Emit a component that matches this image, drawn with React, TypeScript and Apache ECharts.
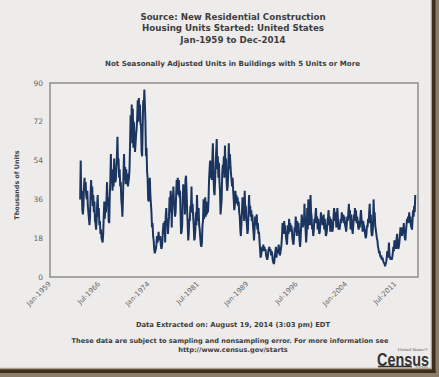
import React, { useEffect, useRef } from "react";
import * as echarts from "echarts";

// ---- axis / label data ----
const MONTHS = ["Jan", "Feb", "Mar", "Apr", "May", "Jun", "Jul", "Aug", "Sep", "Oct", "Nov", "Dec"];
const FIRST_YEAR = 1959;
const LAST_YEAR = 2014;
const TICK_LABELS = ["Jan-1959", "Jul-1966", "Jan-1974", "Jul-1981", "Jan-1989", "Jul-1996", "Jan-2004", "Jul-2011"];
const Y_MIN = 0;
const Y_MAX = 90;
const Y_STEP = 18;
const SERIES_START = "Aug-1963";

// ---- monthly values (thousands of units) ----
const v1963 = [36, 54, 38, 40, 31]; // Aug-Dec
const v1964 = [29, 33, 42, 46, 40, 44, 38, 36, 40, 33, 30, 27];
const v1965 = [24, 28, 38, 45, 36, 42, 33, 38, 30, 35, 26, 25];
const v1966 = [22, 26, 34, 38, 28, 32, 24, 26, 20, 22, 18, 17];
const v1967 = [16, 20, 28, 35, 27, 34, 30, 36, 44, 33, 37, 26];
const v1968 = [25, 38, 45, 57, 44, 48, 40, 50, 42, 55, 46, 44];
const v1969 = [45, 50, 56, 65, 52, 55, 46, 50, 42, 44, 36, 33];
const v1970 = [28, 36, 48, 57, 45, 51, 43, 50, 44, 48, 42, 44];
const v1971 = [46, 50, 62, 75, 66, 80, 62, 78, 60, 72, 63, 58];
const v1972 = [62, 66, 69, 74, 82, 72, 83, 75, 80, 71, 70, 58];
const v1973 = [56, 70, 82, 78, 87, 80, 72, 56, 60, 49, 46, 36];
const v1974 = [35, 40, 46, 38, 34, 30, 23, 25, 19, 17, 13, 11];
const v1975 = [11, 13, 15, 19, 16, 18, 21, 17, 18, 19, 15, 13];
const v1976 = [14, 17, 22, 25, 20, 26, 16, 28, 32, 24, 27, 20];
const v1977 = [24, 28, 37, 30, 40, 36, 23, 38, 36, 42, 35, 31];
const v1978 = [28, 30, 38, 45, 40, 46, 38, 45, 37, 40, 30, 20];
const v1979 = [21, 24, 36, 43, 35, 40, 29, 45, 47, 40, 31, 25];
const v1980 = [17, 20, 27, 26, 33, 30, 42, 30, 34, 28, 24, 17];
const v1981 = [18, 22, 30, 24, 38, 30, 26, 32, 24, 22, 18, 15];
const v1982 = [14, 16, 24, 26, 36, 27, 30, 37, 28, 35, 29, 33];
const v1983 = [30, 35, 45, 50, 54, 46, 51, 45, 55, 62, 48, 40];
const v1984 = [38, 44, 52, 58, 64, 50, 56, 46, 53, 44, 40, 29];
const v1985 = [29, 36, 48, 52, 50, 56, 46, 61, 50, 55, 44, 40];
const v1986 = [42, 48, 62, 50, 57, 52, 48, 45, 42, 46, 40, 36];
const v1987 = [31, 33, 40, 36, 38, 34, 37, 33, 35, 30, 28, 22];
const v1988 = [19, 24, 30, 37, 32, 34, 26, 40, 31, 33, 27, 24];
const v1989 = [20, 22, 30, 38, 31, 33, 28, 31, 26, 29, 24, 21];
const v1990 = [17, 22, 28, 24, 27, 29, 22, 25, 20, 21, 17, 13];
const v1991 = [9, 10, 12, 14, 13, 15, 12, 14, 12, 13, 10, 9];
const v1992 = [8, 9, 12, 13, 14, 12, 13, 10, 12, 11, 8, 7];
const v1993 = [6, 7, 10, 12, 14, 9, 13, 11, 12, 15, 12, 10];
const v1994 = [11, 13, 15, 19, 25, 22, 20, 26, 21, 24, 19, 17];
const v1995 = [15, 19, 24, 20, 27, 22, 25, 21, 24, 22, 18, 16];
const v1996 = [15, 19, 23, 21, 28, 24, 19, 26, 20, 25, 21, 17];
const v1997 = [14, 18, 24, 29, 26, 23, 27, 24, 34, 26, 22, 16];
const v1998 = [20, 32, 22, 36, 28, 27, 24, 38, 30, 28, 22, 23];
const v1999 = [19, 22, 27, 25, 29, 32, 25, 28, 22, 27, 23, 20];
const v2000 = [21, 25, 30, 27, 28, 24, 26, 29, 22, 27, 23, 19];
const v2001 = [20, 22, 26, 28, 31, 24, 28, 21, 27, 25, 22, 21];
const v2002 = [23, 28, 32, 29, 26, 30, 23, 28, 32, 27, 22, 24];
const v2003 = [22, 24, 27, 25, 30, 28, 26, 29, 25, 28, 24, 23];
const v2004 = [21, 24, 28, 26, 30, 34, 27, 31, 22, 29, 25, 22];
const v2005 = [20, 24, 29, 26, 32, 27, 31, 25, 28, 26, 23, 22];
const v2006 = [26, 23, 28, 31, 27, 25, 21, 26, 24, 23, 21, 19];
const v2007 = [18, 20, 24, 23, 27, 25, 30, 34, 25, 29, 21, 19];
const v2008 = [20, 24, 36, 28, 30, 24, 22, 20, 18, 17, 14, 13];
const v2009 = [11, 12, 10, 9, 10, 8, 9, 8, 7, 7, 6, 5];
const v2010 = [6, 7, 9, 12, 9, 11, 16, 10, 9, 8, 9, 8];
const v2011 = [9, 11, 14, 12, 17, 14, 16, 13, 18, 20, 15, 13];
const v2012 = [14, 16, 19, 23, 20, 22, 19, 23, 20, 25, 21, 18];
const v2013 = [17, 21, 24, 27, 25, 28, 26, 30, 25, 28, 24, 23];
const v2014 = [22, 26, 31, 28, 33, 30, 38]; // Jan-Jul

const YEAR_VALUES = [
  v1963, v1964, v1965, v1966, v1967, v1968, v1969, v1970, v1971, v1972, v1973, v1974,
  v1975, v1976, v1977, v1978, v1979, v1980, v1981, v1982, v1983, v1984, v1985, v1986,
  v1987, v1988, v1989, v1990, v1991, v1992, v1993, v1994, v1995, v1996, v1997, v1998,
  v1999, v2000, v2001, v2002, v2003, v2004, v2005, v2006, v2007, v2008, v2009, v2010,
  v2011, v2012, v2013, v2014,
];

const TITLE_LINES = [
  "Source: New Residential Construction",
  "Housing Units Started: United States",
  "Jan-1959 to Dec-2014",
];
const SUBTITLE = "Not Seasonally Adjusted Units in Buildings with 5 Units or More";
const Y_NAME = "Thousands of Units";
const FOOTER_1 = "Data Extracted on: August 19, 2014 (3:03 pm) EDT";
const FOOTER_2 = "These data are subject to sampling and nonsampling error. For more information see";
const FOOTER_3 = "http://www.census.gov/starts";

const FONT = "DejaVu Sans";
const TEXT_DARK = "#3e3e3e";
const TEXT_GRAY = "#666666";

export default function App() {
  const ref = useRef<HTMLDivElement>(null);

  useEffect(() => {
    if (!ref.current) return;
    const chart = echarts.init(ref.current, undefined, { renderer: "svg" });

    const categories: string[] = [];
    for (let y = FIRST_YEAR; y <= LAST_YEAR; y++) {
      for (const m of MONTHS) categories.push(`${m}-${y}`);
    }
    const flat: number[] = ([] as number[]).concat(...YEAR_VALUES);
    const startIdx = categories.indexOf(SERIES_START);
    const data = categories.map((_, i) =>
      i >= startIdx && i < startIdx + flat.length ? flat[i - startIdx] : null
    );

    const centerX = 233;

    chart.setOption({
      animation: false,
      backgroundColor: "#edecea",
      grid: {
        left: 50,
        top: 83,
        width: 368,
        height: 194,
        show: true,
        borderColor: "#8d8d8d",
        borderWidth: 1.5,
        backgroundColor: "#efeeec",
        containLabel: false,
      },
      xAxis: {
        type: "category",
        data: categories,
        boundaryGap: false,
        axisLine: { show: false },
        axisTick: { show: false },
        splitLine: { show: false },
        axisLabel: {
          interval: 0,
          formatter: (v: string) => (TICK_LABELS.includes(v) ? v : ""),
          showMinLabel: true,
          showMaxLabel: true,
          hideOverlap: false,
          rotate: 45,
          fontSize: 7,
          fontFamily: FONT,
          color: TEXT_GRAY,
          margin: 6,
        },
      },
      yAxis: {
        type: "value",
        min: Y_MIN,
        max: Y_MAX,
        interval: Y_STEP,
        axisLine: { show: false },
        axisTick: { show: false },
        splitLine: { show: false },
        axisLabel: { fontSize: 7.5, fontFamily: FONT, color: TEXT_GRAY, margin: 7 },
      },
      series: [
        {
          type: "line",
          data,
          showSymbol: false,
          connectNulls: false,
          lineStyle: { color: "#1c3560", width: 2 },
          itemStyle: { color: "#1c3560" },
        },
      ],
      graphic: [
        ...TITLE_LINES.map((t, i) => ({
          type: "text",
          x: centerX,
          y: 17 + i * 11.3,
          style: {
            text: t,
            fontFamily: FONT,
            fontWeight: "bold",
            fontSize: 8.7,
            fill: TEXT_DARK,
            textAlign: "center",
            textVerticalAlign: "middle",
          },
        })),
        {
          type: "text",
          x: 232.5,
          y: 63,
          style: {
            text: SUBTITLE,
            fontFamily: FONT,
            fontWeight: "bold",
            fontSize: 7.1,
            fill: TEXT_DARK,
            textAlign: "center",
            textVerticalAlign: "middle",
          },
        },
        {
          type: "text",
          x: 17,
          y: 185,
          rotation: Math.PI / 2,
          style: {
            text: Y_NAME,
            fontFamily: FONT,
            fontWeight: "bold",
            fontSize: 6.4,
            fill: TEXT_DARK,
            textAlign: "center",
            textVerticalAlign: "middle",
          },
        },
        {
          type: "text",
          x: 233,
          y: 325,
          style: {
            text: FOOTER_1,
            fontFamily: FONT,
            fontWeight: "bold",
            fontSize: 6.8,
            fill: TEXT_DARK,
            textAlign: "center",
            textVerticalAlign: "middle",
          },
        },
        {
          type: "text",
          x: 230,
          y: 341,
          style: {
            text: FOOTER_2,
            fontFamily: FONT,
            fontWeight: "bold",
            fontSize: 6.6,
            fill: TEXT_DARK,
            textAlign: "center",
            textVerticalAlign: "middle",
          },
        },
        {
          type: "text",
          x: 233,
          y: 350,
          style: {
            text: FOOTER_3,
            fontFamily: FONT,
            fontWeight: "bold",
            fontSize: 6.6,
            fill: TEXT_DARK,
            textAlign: "center",
            textVerticalAlign: "middle",
          },
        },
        // Census logo
        {
          type: "text",
          x: 428,
          y: 349,
          style: {
            text: "United States\u00AE",
            fontFamily: "Liberation Serif",
            fontStyle: "italic",
            fontSize: 5,
            fill: "#555",
            textAlign: "right",
            textVerticalAlign: "middle",
          },
        },
        {
          type: "text",
          x: 377,
          y: 359,
          scaleX: 0.8,
          style: {
            text: "Census",
            fontFamily: "Liberation Sans",
            fontWeight: "bold",
            fontSize: 18,
            fill: "#333",
            textAlign: "left",
            textVerticalAlign: "middle",
          },
        },
        {
          type: "rect",
          shape: { x: 378, y: 365.8, width: 34, height: 1.6 },
          style: { fill: "#333" },
        },
        {
          type: "text",
          x: 428,
          y: 366.8,
          style: {
            text: "Bureau",
            fontFamily: FONT,
            fontSize: 3.5,
            fill: "#555",
            textAlign: "right",
            textVerticalAlign: "middle",
          },
        },
        // photo frame (right / bottom)
        { type: "rect", shape: { x: 431, y: 0, width: 8, height: 377 }, style: { fill: "#8b7d69" } },
        { type: "rect", shape: { x: 0, y: 368, width: 439, height: 9 }, style: { fill: "#8b7d69" } },
        { type: "rect", shape: { x: 430.5, y: 0, width: 1, height: 368.5 }, style: { fill: "#cfc6b6" } },
        { type: "rect", shape: { x: 0, y: 367.5, width: 431.5, height: 1 }, style: { fill: "#cfc6b6" } },
        { type: "rect", shape: { x: 432, y: 0, width: 3.5, height: 373 }, style: { fill: "#3c2d1d" } },
        { type: "rect", shape: { x: 0, y: 369.5, width: 435.5, height: 3.5 }, style: { fill: "#3c2d1d" } },
      ],
    });

    return () => chart.dispose();
  }, []);

  return (
    <div
      ref={ref}
      style={{ position: "fixed", left: 0, top: 0, width: 439, height: 377 }}
    />
  );
}
